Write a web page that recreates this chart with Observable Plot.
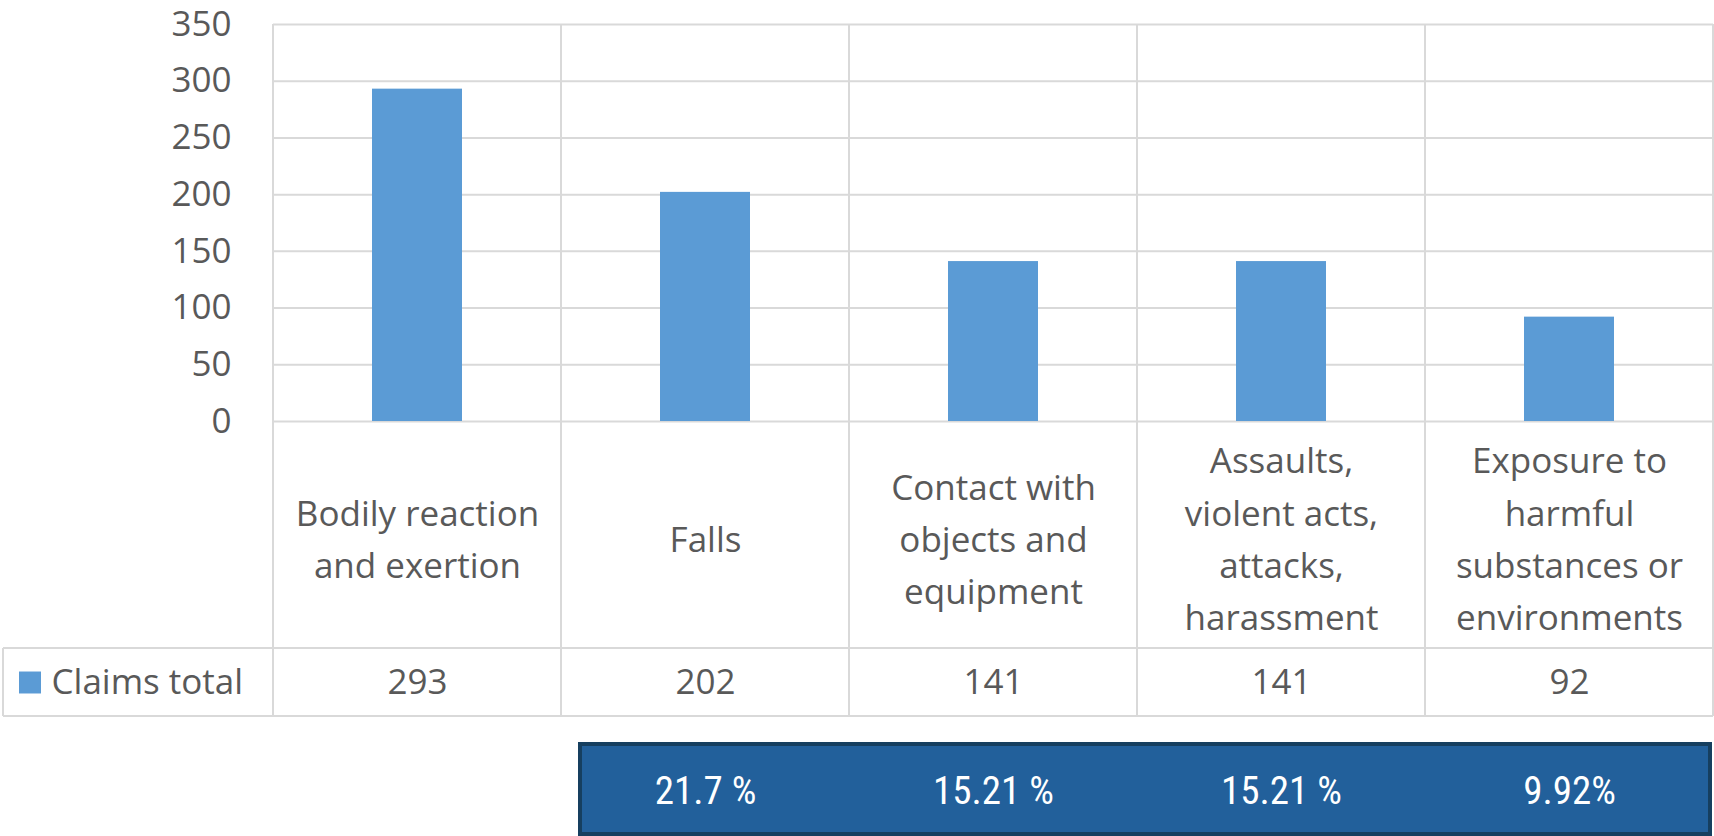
<!DOCTYPE html>
<html>
<head>
<meta charset="utf-8">
<script src="https://cdn.jsdelivr.net/npm/d3@7"></script>
<script src="https://cdn.jsdelivr.net/npm/@observablehq/plot@0.6"></script>
<style>
  html, body { margin: 0; padding: 0; background: #fff; }
  #chart svg { display: block; }
  #chart g[aria-description="share of claims"] text { font-stretch: condensed; }
</style>
</head>
<body>
<div id="chart"></div>
<script>
// Injury claims by event type
const categories = [
  "Bodily reaction and exertion",
  "Falls",
  "Contact with objects and equipment",
  "Assaults, violent acts, attacks, harassment",
  "Exposure to harmful substances or environments"
];
const categoryLabels = [
  "Bodily reaction\nand exertion",
  "Falls",
  "Contact with\nobjects and\nequipment",
  "Assaults,\nviolent acts,\nattacks,\nharassment",
  "Exposure to\nharmful\nsubstances or\nenvironments"
];
const claims = [293, 202, 141, 141, 92];
const seriesName = "Claims total";

// Share of claims, shown for the last four event types
const shareCategories = categories.slice(1);
const shareLabels = ["21.7 %", "15.21 %", "15.21 %", "9.92%"];

const yTicks = [0, 50, 100, 150, 200, 250, 300, 350];

const rows = categories.map((c, i) => ({category: c, label: categoryLabels[i], claims: claims[i]}));
const shares = shareCategories.map((c, i) => ({category: c, share: shareLabels[i]}));

const barColor = "#5b9bd5";
const gridColor = "#d9d9d9";
const textColor = "#595959";
const font = "'Open Sans', 'Noto Sans', sans-serif";
const narrowFont = "'Roboto Condensed', 'Liberation Sans Narrow', 'Arial Narrow', 'DejaVu Sans Condensed', Roboto, sans-serif";

const W = 1714, H = 836;
const M = {top: 24, right: 1, bottom: 415, left: 273};
const labelRowH = 227;   // height of the category label row
const valueRowH = 68;    // height of the value row

// Data-table grid below the plot, sharing the band edges of the x scale
function tableGrid(index, scales, values, dims) {
  const {width, height, marginRight, marginTop, marginBottom} = dims;
  const x = scales.x;
  const bw = x.bandwidth();
  const yZero = height - marginBottom;
  const yHead = yZero + labelRowH;
  const yRow = yHead + valueRowH;
  const xEnd = width - marginRight;
  const g = d3.create("svg:g")
    .attr("stroke", gridColor)
    .attr("stroke-width", 2)
    .attr("fill", "none");
  const edges = categories.map(c => x(c)).concat([x(categories[categories.length - 1]) + bw]);
  for (const e of edges) {
    g.append("line").attr("x1", e).attr("x2", e).attr("y1", marginTop).attr("y2", yRow);
  }
  for (const yy of [yHead, yRow]) {
    g.append("line").attr("x1", 3).attr("x2", xEnd).attr("y1", yy).attr("y2", yy);
  }
  g.append("line").attr("x1", 3).attr("x2", 3).attr("y1", yHead).attr("y2", yRow);
  return g.node();
}

// Banner behind the share labels
function shareBox(index, scales, values, dims) {
  const {width, height} = dims;
  const x = scales.x;
  const left = x(shareCategories[0]) + 19;
  const right = width - 4;
  return d3.create("svg:rect")
    .attr("x", left)
    .attr("y", 744)
    .attr("width", right - left)
    .attr("height", height - 746)
    .attr("fill", "#22609b")
    .attr("stroke", "#163f5f")
    .attr("stroke-width", 4)
    .node();
}

const chart = Plot.plot({
  width: W,
  height: H,
  marginTop: M.top,
  marginRight: M.right,
  marginBottom: M.bottom,
  marginLeft: M.left,
  style: {fontFamily: font, fontSize: "35px", color: textColor, background: "#fff"},
  x: {domain: categories, padding: 0, axis: null},
  y: {domain: [0, 350], ticks: yTicks, tickSize: 0, tickPadding: 42, label: null},
  marks: [
    Plot.ruleY(yTicks, {stroke: gridColor, strokeWidth: 2}),
    tableGrid,
    Plot.barY(rows, {x: "category", y: "claims", fill: barColor, insetLeft: 99, insetRight: 99}),
    Plot.text(rows, {
      x: "category", text: "label", frameAnchor: "bottom", dy: labelRowH / 2,
      lineAnchor: "middle", lineHeight: 1.49, fontSize: 35, fill: textColor, fontFamily: font
    }),
    Plot.text(rows, {
      x: "category", text: d => String(d.claims), frameAnchor: "bottom",
      dy: labelRowH + valueRowH / 2, lineAnchor: "middle", fontSize: 35, fill: textColor, fontFamily: font
    }),
    Plot.dot([seriesName], {
      frameAnchor: "bottom-left", dx: -243.5, dy: labelRowH + valueRowH / 2,
      symbol: "square", r: 12.4, fill: barColor
    }),
    Plot.text([seriesName], {
      text: d => d, frameAnchor: "bottom-left", textAnchor: "start", dx: -222,
      dy: labelRowH + valueRowH / 2, lineAnchor: "middle", fontSize: 35, fill: textColor, fontFamily: font
    }),
    shareBox,
    Plot.text(shares, {
      x: "category", text: "share", frameAnchor: "bottom", dy: 370,
      lineAnchor: "middle", fontSize: 39, fontWeight: 400, fill: "#ffffff", fontFamily: narrowFont,
      ariaDescription: "share of claims"
    })
  ]
});

document.getElementById("chart").append(chart);
</script>
</body>
</html>
